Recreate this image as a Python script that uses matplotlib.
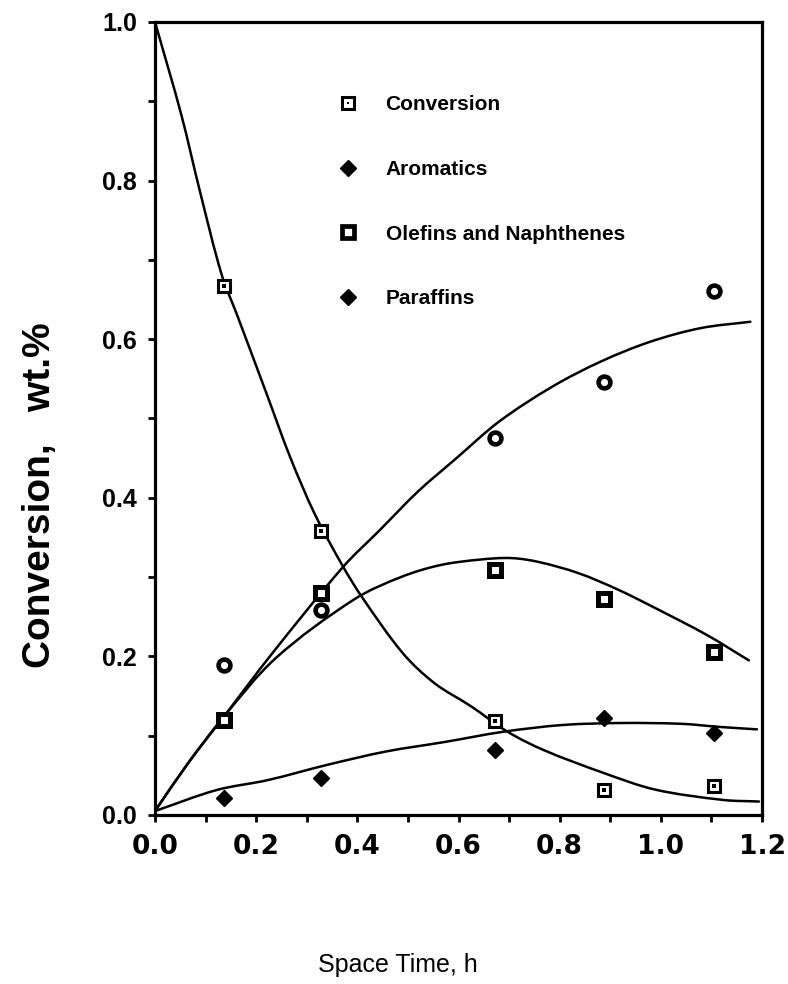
import matplotlib
matplotlib.use("Agg")
import matplotlib.pyplot as plt
import numpy as np
from matplotlib.lines import Line2D
from matplotlib.path import Path
from matplotlib.patches import PathPatch
from matplotlib.ticker import MultipleLocator, FormatStrFormatter

# ---- measured data (space time, h) ----
space_time = [0.136, 0.328, 0.673, 0.888, 1.105]
conversion = [0.667, 0.358, 0.119, 0.032, 0.037]
aromatics = [0.021, 0.047, 0.082, 0.122, 0.103]
olefins_naphthenes = [0.120, 0.280, 0.309, 0.273, 0.205]
paraffins = [0.189, 0.258, 0.476, 0.546, 0.661]

# ---- fitted curves ----
conv_fit_x = [0.0, 0.052, 0.089, 0.132, 0.162, 0.219, 0.268, 0.317, 0.372, 0.409,
              0.490, 0.553, 0.625, 0.697, 0.768, 0.887, 0.989, 1.123, 1.194]
conv_fit_y = [1.0, 0.883, 0.786, 0.681, 0.631, 0.534, 0.450, 0.378, 0.313, 0.275,
              0.204, 0.166, 0.137, 0.105, 0.082, 0.053, 0.032, 0.019, 0.017]

par_fit_x = [0.0, 0.065, 0.136, 0.232, 0.372, 0.444, 0.520, 0.596, 0.680, 0.785,
             0.882, 0.980, 1.079, 1.177]
par_fit_y = [0.005, 0.065, 0.124, 0.204, 0.313, 0.359, 0.408, 0.450, 0.496, 0.540,
             0.572, 0.597, 0.614, 0.622]

ole_fit_x = [0.0, 0.065, 0.136, 0.239, 0.394, 0.486, 0.563, 0.641, 0.704, 0.759,
             0.837, 0.916, 0.995, 1.091, 1.174]
ole_fit_y = [0.005, 0.065, 0.124, 0.198, 0.272, 0.300, 0.315, 0.322, 0.324, 0.319,
             0.305, 0.284, 0.259, 0.227, 0.195]

aro_fit_x = [0.0, 0.122, 0.223, 0.339, 0.456, 0.572, 0.689, 0.806, 0.923, 1.040,
             1.118, 1.19]
aro_fit_y = [0.005, 0.0315, 0.044, 0.063, 0.080, 0.092, 0.105, 0.1135, 0.116, 0.115,
             0.111, 0.108]

labels = ["Conversion", "Aromatics", "Olefins and Naphthenes", "Paraffins"]

W, H = 788, 984
AX_W, AX_H = 762 - 155, 815 - 22
XSPAN, YSPAN = 1.2, 1.0


def smooth_path(xs, ys):
    """Smooth Bezier path through the given points (chord-length tangents)."""
    P = np.column_stack([xs, ys]).astype(float)
    S = P * np.array([AX_W / XSPAN, AX_H / YSPAN])  # approx. pixel space
    n = len(P)
    d = np.hypot(*np.diff(S, axis=0).T)
    t = np.concatenate([[0], np.cumsum(d)])
    M = np.zeros_like(P)
    for i in range(n):
        if i == 0:
            M[i] = (P[1] - P[0]) / (t[1] - t[0])
        elif i == n - 1:
            M[i] = (P[-1] - P[-2]) / (t[-1] - t[-2])
        else:
            M[i] = (P[i + 1] - P[i - 1]) / (t[i + 1] - t[i - 1])
    verts = [P[0]]
    codes = [Path.MOVETO]
    for i in range(n - 1):
        h = t[i + 1] - t[i]
        verts += [P[i] + M[i] * h / 3, P[i + 1] - M[i + 1] * h / 3, P[i + 1]]
        codes += [Path.CURVE4] * 3
    return Path(np.array(verts), codes)


fig = plt.figure(figsize=(W / 100, H / 100), dpi=100)
ax = fig.add_axes([155 / W, 1 - 815 / H, AX_W / W, AX_H / H])

lw = 1.8
for fx, fy in [(conv_fit_x, conv_fit_y), (par_fit_x, par_fit_y),
               (ole_fit_x, ole_fit_y), (aro_fit_x, aro_fit_y)]:
    patch = PathPatch(smooth_path(fx, fy), facecolor="none", edgecolor="black",
                      lw=lw, transform=ax.transData, zorder=2, capstyle="round")
    ax.add_patch(patch)

# markers
ax.plot(space_time, conversion, ls="none", marker="s", ms=8.5, mfc="white",
        mec="black", mew=2.2, zorder=3)
ax.plot(space_time, conversion, ls="none", marker="s", ms=2.2, mfc="black",
        mec="black", mew=0, zorder=4)
ax.plot(space_time, aromatics, ls="none", marker="D", ms=8.5, mfc="black",
        mec="black", mew=1, zorder=3)
ax.plot(space_time, olefins_naphthenes, ls="none", marker="s", ms=8.5, mfc="white",
        mec="black", mew=3.6, zorder=3)
ax.plot(space_time, paraffins, ls="none", marker="o", ms=8.5, mfc="white",
        mec="black", mew=3.3, zorder=3)

ax.set_xlim(0, XSPAN)
ax.set_ylim(0, YSPAN)
ax.xaxis.set_major_locator(MultipleLocator(0.2))
ax.xaxis.set_minor_locator(MultipleLocator(0.1))
ax.yaxis.set_major_locator(MultipleLocator(0.2))
ax.yaxis.set_minor_locator(MultipleLocator(0.1))
ax.xaxis.set_major_formatter(FormatStrFormatter("%.1f"))
ax.yaxis.set_major_formatter(FormatStrFormatter("%.1f"))

for sp in ax.spines.values():
    sp.set_linewidth(2.3)
ax.tick_params(which="both", direction="out", length=5, width=2.0)
ax.tick_params(axis="x", which="major", pad=9)
ax.tick_params(axis="y", which="major", pad=8)

for t in ax.get_xticklabels():
    t.set_fontfamily("DejaVu Sans")
    t.set_fontweight("bold")
    t.set_fontsize(19)
for t in ax.get_yticklabels():
    t.set_fontfamily("Liberation Sans")
    t.set_fontweight("bold")
    t.set_fontsize(18)

# legend
h_conv = (Line2D([], [], ls="none", marker="s", ms=8, mfc="white", mec="black", mew=2.2),
          Line2D([], [], ls="none", marker="s", ms=2, mfc="black", mec="black", mew=0))
h_aro = Line2D([], [], ls="none", marker="D", ms=8, mfc="black", mec="black")
h_ole = Line2D([], [], ls="none", marker="s", ms=8, mfc="white", mec="black", mew=3.4)
h_par = Line2D([], [], ls="none", marker="D", ms=8.5, mfc="black", mec="black")
leg = fig.legend([h_conv, h_aro, h_ole, h_par], labels,
                 loc="upper left", bbox_to_anchor=(338 / W, 1 - 95 / H),
                 frameon=False, borderpad=0, borderaxespad=0,
                 handlelength=1.0, handletextpad=1.28, labelspacing=2.2,
                 prop={"family": "Liberation Sans", "weight": "bold", "size": 15})

fig.text(40 / W, 1 - 495 / H, "Conversion,   wt.%", rotation=90, ha="center",
         va="center", fontsize=28, fontweight="bold", family="Liberation Sans")
fig.text(398 / W, 1 - 965 / H, "Space Time, h", ha="center", va="center",
         fontsize=18, family="Liberation Sans")

fig.savefig("out.png", dpi=100)
